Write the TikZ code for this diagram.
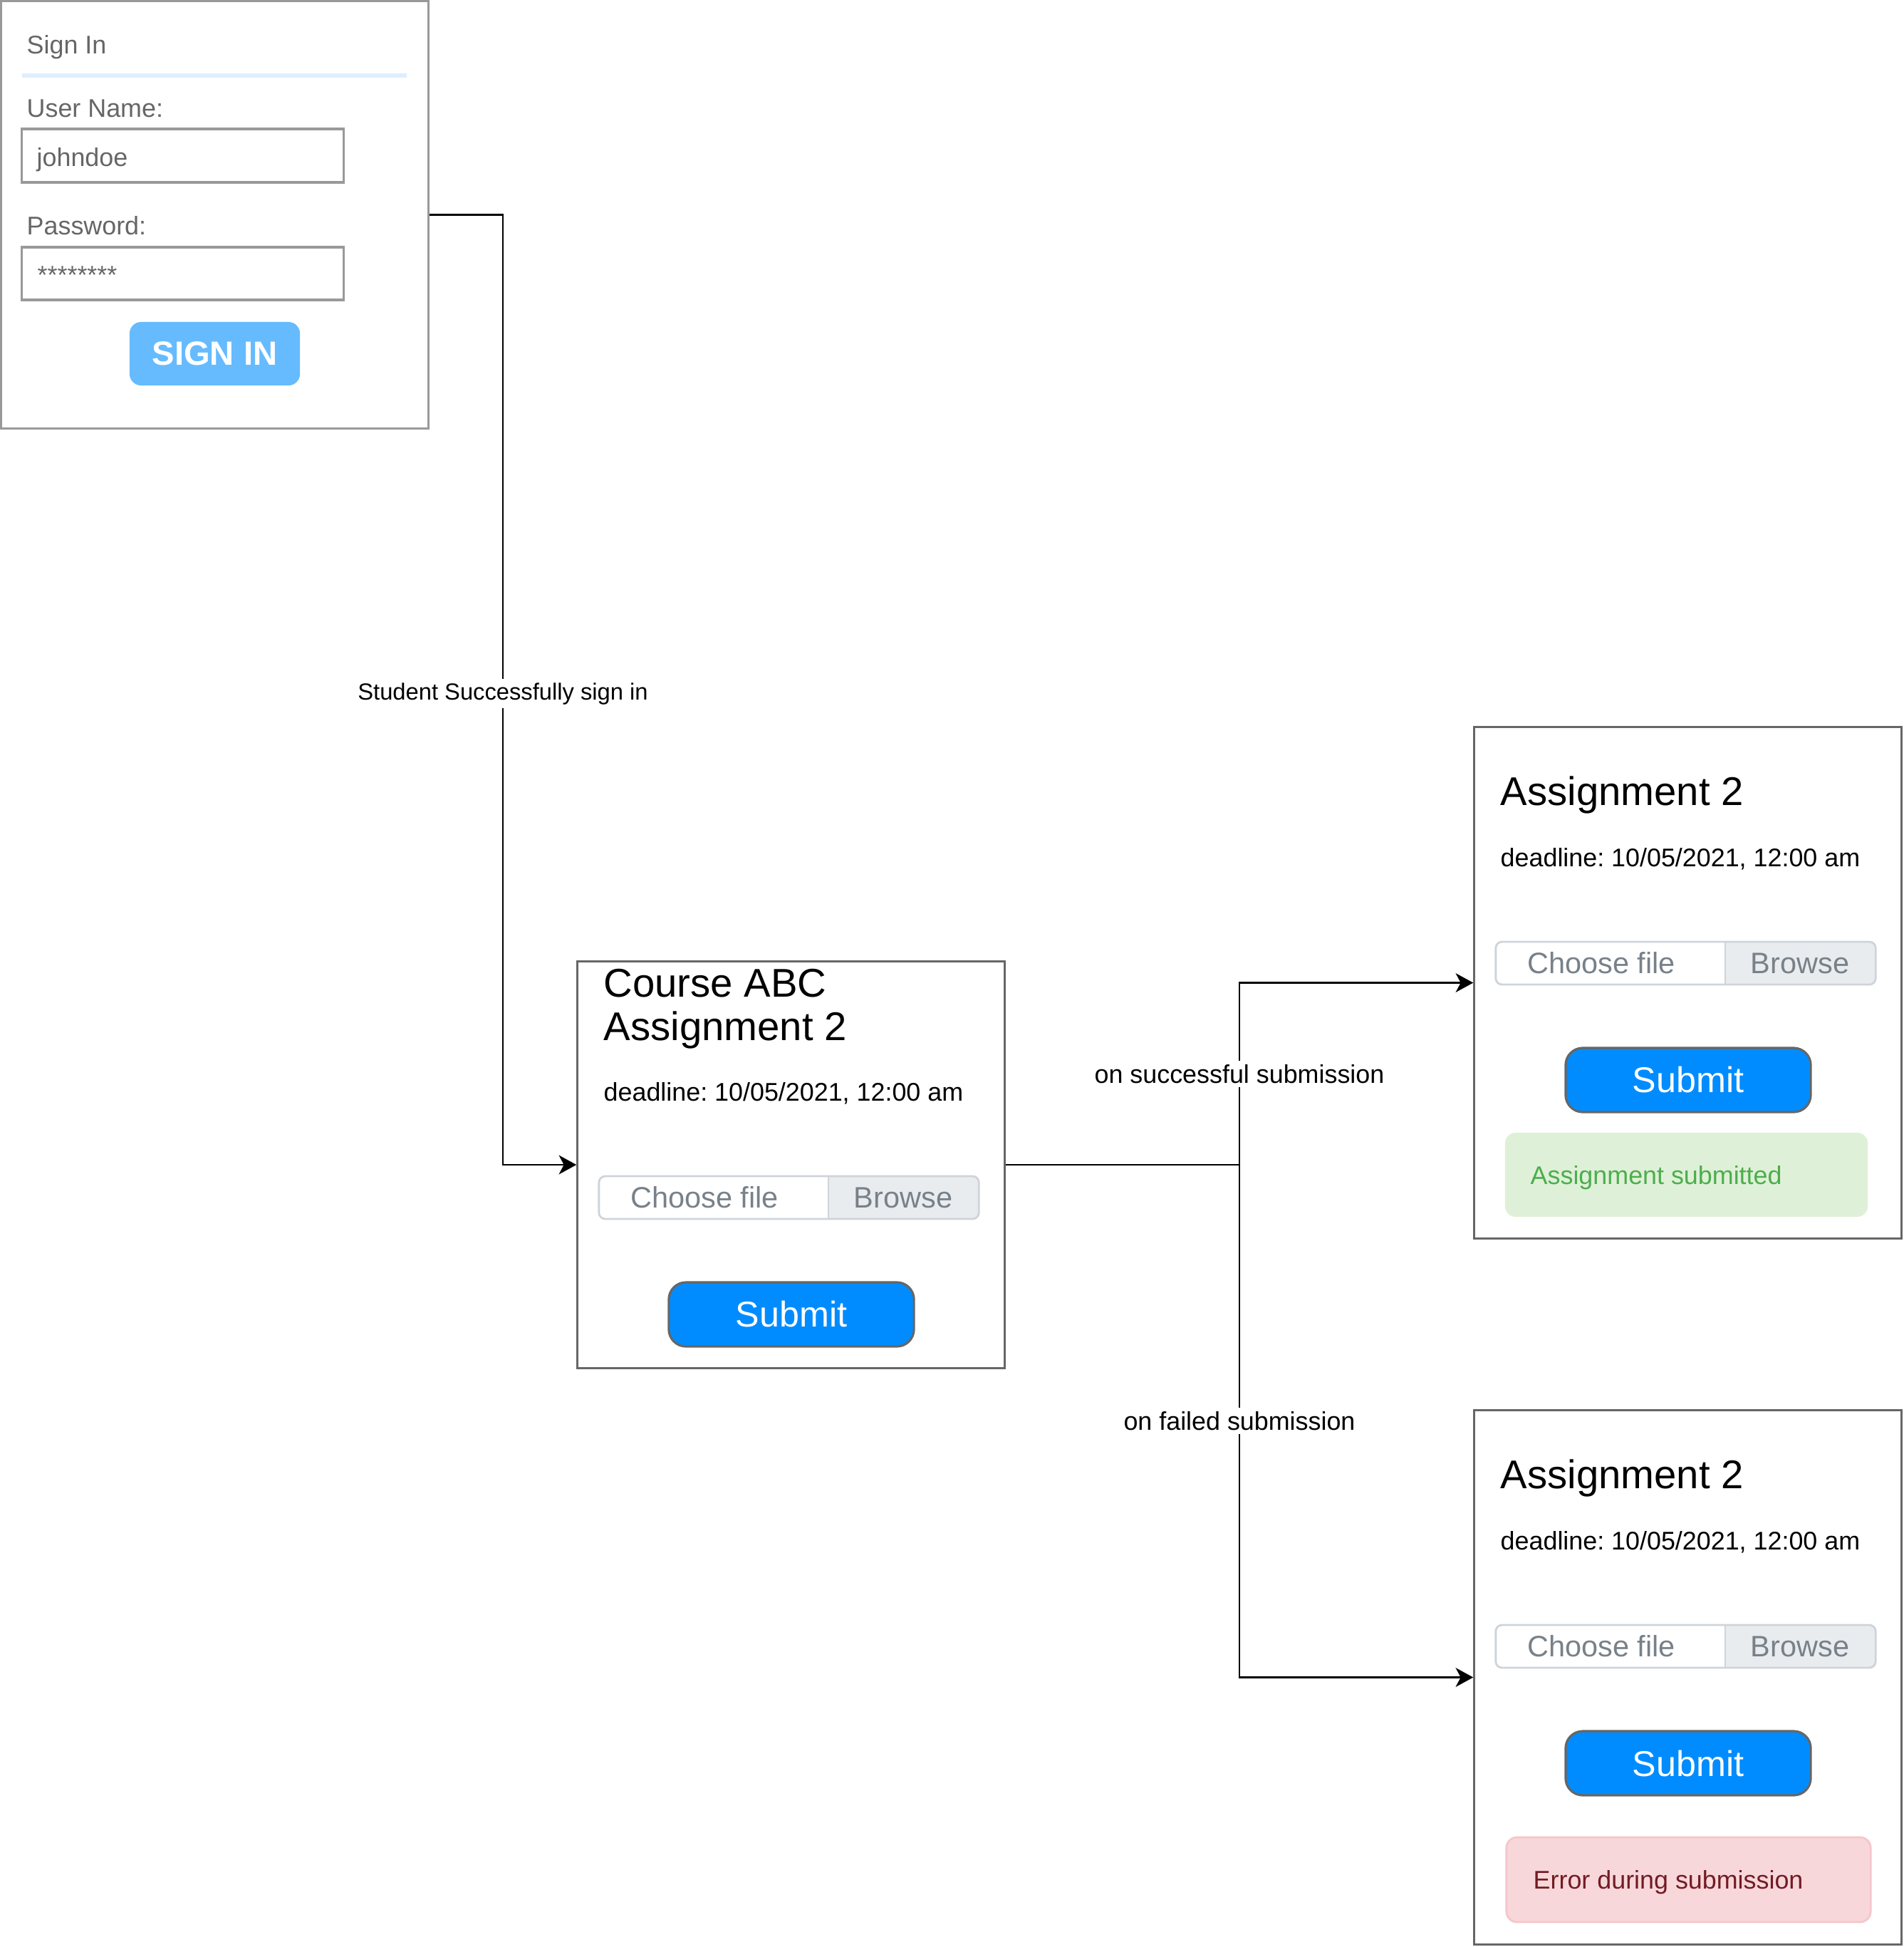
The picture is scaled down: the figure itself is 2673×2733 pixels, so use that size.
\documentclass[tikz,border=0pt]{standalone}
\usepackage{fontspec}
\setmainfont{Liberation Sans}
\frenchspacing
\usetikzlibrary{arrows.meta, positioning}
\definecolor{framegray}{RGB}{153, 153, 153}
\definecolor{panelgray}{RGB}{102, 102, 102}
\definecolor{formgray}{RGB}{102, 102, 102}
\definecolor{rulerblue}{RGB}{221, 238, 255}
\definecolor{signblue}{RGB}{102, 187, 255}
\definecolor{submitblue}{RGB}{0, 140, 255}
\definecolor{chooseline}{RGB}{206, 212, 218}
\definecolor{browsegray}{RGB}{233, 236, 239}
\definecolor{filegray}{RGB}{120, 129, 137}
\definecolor{okfill}{RGB}{223, 240, 216}
\definecolor{oktext}{RGB}{76, 174, 76}
\definecolor{errfill}{RGB}{248, 215, 218}
\definecolor{errline}{RGB}{245, 198, 203}
\definecolor{errtext}{RGB}{114, 28, 36}
\tikzset{
  signframe/.style={draw=framegray, line width=0.9pt, inner sep=0pt},
  formtxt/.style={anchor=base west, inner sep=0pt, text=formgray, font=\fontsize{10.2}{12}\selectfont},
  field/.style={draw=framegray, line width=0.9pt, inner sep=0pt},
  signbtn/.style={fill=signblue, rounded corners=0.16cm, text=white, font=\fontsize{13.4}{16}\selectfont\bfseries, inner sep=0pt},
  panel/.style={draw=panelgray, line width=0.9pt, inner sep=0pt},
  titletxt/.style={anchor=base west, inner sep=0pt, font=\fontsize{16}{17.4}\selectfont},
  datetxt/.style={anchor=base west, inner sep=0pt, font=\fontsize{10.2}{12}\selectfont},
  chooser/.style={draw=chooseline, line width=0.8pt, rounded corners=2.5pt, inner sep=0pt},
  filetxt/.style={text=filegray, font=\fontsize{11.8}{14}\selectfont, inner sep=0pt},
  submitbtn/.style={draw=panelgray, line width=0.9pt, fill=submitblue, rounded corners=0.24cm, text=white, font=\fontsize{14.3}{17}\selectfont, inner sep=0pt},
  okbox/.style={fill=okfill, rounded corners=0.15cm, inner sep=0pt},
  errbox/.style={fill=errfill, draw=errline, line width=0.8pt, rounded corners=0.15cm, inner sep=0pt},
  alerttxt/.style={anchor=base west, inner sep=0pt, font=\fontsize{10.2}{12}\selectfont},
  link/.style={line width=0.75pt},
  flow/.style={line width=0.75pt, -{Stealth[length=7pt, width=7.6pt, inset=2pt]}},
  lbl/.style={fill=white, inner sep=1.5pt, font=\fontsize{10.2}{12}\selectfont},
}

\begin{document}
\begin{tikzpicture}[x=0.01cm, y=-0.01cm]
  \useasboundingbox (0,0) rectangle (2673,2733);

  % Sign in form
  \node[signframe, minimum width=5.99cm, minimum height=5.99cm] (signin) at (301.5,301.5) {};
  \node[formtxt] (signtitle) at (37,75) {Sign In};
  \draw[rulerblue, line width=1.6pt] (31,106) -- (571,106);
  \node[formtxt] (userlbl) at (37,164) {User Name:};
  \node[field, minimum width=4.51cm, minimum height=0.75cm] (user) at (256.5,218.5) {};
  \node[formtxt] (usertxt) at (51,233) {johndoe};
  \node[formtxt] (passlbl) at (37,329) {Password:};
  \node[field, minimum width=4.51cm, minimum height=0.74cm] (pass) at (256.5,384) {};
  \node[formtxt] (passtxt) at (52,398) {********};
  \node[signbtn, minimum width=2.39cm, minimum height=0.89cm] (signbtn) at (301.5,496.5) {SIGN IN};

  % Assignment pages
  \node[panel, minimum width=5.99cm, minimum height=5.70cm] (course) at (1110.5,1635) {};
  \node[panel, minimum width=5.99cm, minimum height=7.17cm] (done) at (2369.5,1379.5) {};
  \node[panel, minimum width=5.99cm, minimum height=7.49cm] (failed) at (2369.5,2354.5) {};
  \node[titletxt, anchor=north west, align=left] (coursetitle) at (847,1359) {Course ABC\\Assignment 2};
  \node[titletxt] (donetitle) at (2106,1130) {Assignment 2};
  \node[titletxt] (failtitle) at (2106,2089) {Assignment 2};

  \foreach \px/\py/\nm in {811/1350/course, 2070/1021/done, 2070/1980/failed} {
    \node[datetxt] (date\nm) at (\px+36,\py+195) {deadline: 10/05/2021, 12:00 am};
    \begin{scope}
      \clip[rounded corners=2.5pt] (\px+30,\py+301) rectangle (\px+563,\py+361);
      \fill[browsegray] (\px+352,\py+301) rectangle (\px+563,\py+361);
    \end{scope}
    \node[chooser, minimum width=5.33cm, minimum height=0.6cm] (file\nm) at (\px+296.5,\py+331) {};
    \draw[chooseline, line width=0.8pt] (\px+352,\py+301) -- (\px+352,\py+361);
    \node[filetxt] (choose\nm) at (\px+178,\py+331) {Choose file};
    \node[filetxt] (browse\nm) at (\px+457,\py+331) {Browse};
    \node[submitbtn, minimum width=3.44cm, minimum height=0.9cm] (submit\nm) at (\px+300,\py+495) {Submit};
  }

  % Messages
  \node[okbox, minimum width=5.09cm, minimum height=1.18cm] (okmsg) at (2367.5,1649) {};
  \node[alerttxt, text=oktext] (oktxt) at (2148,1662) {Assignment submitted};
  \node[errbox, minimum width=5.11cm, minimum height=1.19cm] (errmsg) at (2370.5,2638.5) {};
  \node[alerttxt, text=errtext] (errtxt) at (2152,2651) {Error during submission};

  % Flow
  \coordinate (turn) at (706,1635);
  \coordinate (split) at (1740,1635);
  \draw[flow] (signin.east) -| node[lbl, pos=.752, font=\fontsize{9.3}{11}\selectfont] (signlbl) {Student Successfully sign in} (turn) -- (course.west);
  \draw[link] (course.east) -- (split);
  \draw[flow] (split) |- node[lbl, pos=.25] (oklbl) {on successful submission} (done.west);
  \draw[flow] (split) |- node[lbl, pos=.25] (faillbl) {on failed submission} (failed.west);
\end{tikzpicture}
\end{document}
